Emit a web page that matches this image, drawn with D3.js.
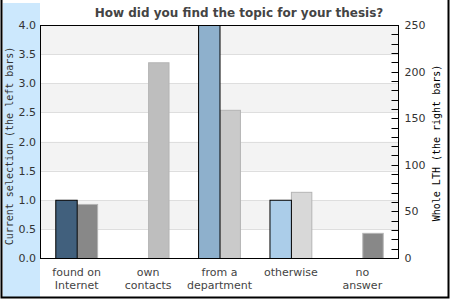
<!DOCTYPE html>
<html>
<head>
<meta charset="utf-8">
<script src="https://cdn.jsdelivr.net/npm/d3@7"></script>
<style>
  body { margin: 0; background: #fff; }
  text { font-family: "DejaVu Sans", Verdana, sans-serif; }
</style>
</head>
<body>
<div id="chart"></div>
<script>
const width = 450;
const height = 300;

// data
const categories = ["found on|Internet", "own|contacts", "from a|department", "otherwise", "no|answer"];
const selection = [1, 0, 4, 1, 0];          // left bars, left axis
const wholeLTH = [58, 210, 159, 71, 27];    // right bars, right axis
const leftTicks = [0, 0.5, 1, 1.5, 2, 2.5, 3, 3.5, 4];
const rightTicks = [0, 50, 100, 150, 200, 250];

const leftColors = ["#41607d", "#5a7fa0", "#8eb0cc", "#abcde9", "#c0dcf0"];
const rightColors = ["#888888", "#bebebe", "#cacaca", "#d8d8d8", "#888888"];

const margin = {top: 25, right: 52, bottom: 42, left: 40};
const x0 = margin.left, x1 = width - margin.right;
const y0 = height - margin.bottom, y1 = margin.top;

const svg = d3.select("#chart")
  .append("svg")
  .attr("width", width)
  .attr("height", height);

// blue strip on the left
svg.append("rect")
  .attr("x", 3).attr("y", 3)
  .attr("width", 37).attr("height", 294)
  .attr("fill", "#cce8fd");

const x = d3.scaleBand()
  .domain(d3.range(categories.length))
  .range([x0 + 1, x1])
  .paddingInner(0.4)
  .paddingOuter(0.2);

const yL = d3.scaleLinear().domain([0, 4]).range([y0, y1]);
const yR = d3.scaleLinear().domain([0, 250]).range([y0, y1]);

// alternating background bands
svg.selectAll(".band")
  .data(d3.range(0, 4, 0.5))
  .enter().append("rect")
  .attr("class", "band")
  .attr("x", x0)
  .attr("width", x1 - x0)
  .attr("y", d => yL(d + 0.5))
  .attr("height", d => yL(d) - yL(d + 0.5))
  .attr("fill", (d, i) => i % 2 ? "#f3f3f3" : "#fff");

svg.selectAll(".grid")
  .data(leftTicks.slice(1, -1))
  .enter().append("line")
  .attr("class", "grid")
  .attr("x1", x0).attr("x2", x1)
  .attr("y1", d => Math.round(yL(d)) + 0.5)
  .attr("y2", d => Math.round(yL(d)) + 0.5)
  .attr("stroke", "#dedede");

const bw = x.bandwidth() / 2;

// right bars (whole LTH)
svg.selectAll(".rbar")
  .data(wholeLTH)
  .enter().append("rect")
  .attr("class", "rbar")
  .attr("x", (d, i) => x(i) + bw + 0.5)
  .attr("y", d => yR(d) + 0.5)
  .attr("width", bw - 1)
  .attr("height", d => y0 - yR(d))
  .attr("fill", (d, i) => rightColors[i])
  .attr("stroke", "#b4b4b4");

// left bars (current selection), zero values not drawn
svg.selectAll(".lbar")
  .data(selection.map((v, i) => ({v, i})).filter(d => d.v > 0))
  .enter().append("rect")
  .attr("class", "lbar")
  .attr("x", d => x(d.i) + 0.5)
  .attr("y", d => yL(d.v) + 0.5)
  .attr("width", bw)
  .attr("height", d => y0 - yL(d.v))
  .attr("fill", d => leftColors[d.i])
  .attr("stroke", "#000");

// plot frame
svg.append("rect")
  .attr("x", x0 + 0.5).attr("y", y1 + 0.5)
  .attr("width", x1 - x0).attr("height", y0 - y1)
  .attr("fill", "none")
  .attr("stroke", "#000");

// left axis labels
svg.selectAll(".ltick")
  .data(leftTicks)
  .enter().append("text")
  .attr("class", "ltick")
  .attr("x", 36)
  .attr("y", d => yL(d) + 4)
  .attr("text-anchor", "end")
  .attr("font-size", 11)
  .attr("fill", "#333")
  .text(d3.format(".1f"));

// right axis with minor ticks
const rAxis = svg.append("g")
  .attr("transform", `translate(${x1 + 0.5},0)`);
rAxis.selectAll("line")
  .data(d3.range(10, 250, 10))
  .enter().append("line")
  .attr("x1", -7).attr("x2", 0)
  .attr("y1", d => Math.round(yR(d)) + 0.5)
  .attr("y2", d => Math.round(yR(d)) + 0.5)
  .attr("stroke", "#000");
rAxis.selectAll("text")
  .data(rightTicks)
  .enter().append("text")
  .attr("x", 6)
  .attr("y", d => yR(d) + 4)
  .attr("font-size", 11)
  .attr("fill", "#333")
  .text(d => d);

// category labels
categories.forEach((c, i) => {
  const t = svg.append("text")
    .attr("x", x(i) + x.bandwidth() / 2)
    .attr("y", 276)
    .attr("text-anchor", "middle")
    .attr("font-size", 11)
    .attr("fill", "#444");
  c.split("|").forEach((line, j) => {
    t.append("tspan")
      .attr("x", x(i) + x.bandwidth() / 2)
      .attr("dy", j ? 13 : 0)
      .text(line);
  });
});

// title
svg.append("text")
  .attr("x", 239).attr("y", 17)
  .attr("text-anchor", "middle")
  .attr("font-size", 12)
  .attr("font-weight", "bold")
  .attr("fill", "#444")
  .text("How did you find the topic for your thesis?");

// axis titles
svg.append("text")
  .attr("transform", "translate(13,146) rotate(-90)")
  .attr("text-anchor", "middle")
  .style("font-family", "'DejaVu Sans Mono', monospace")
  .attr("font-size", 10)
  .attr("fill", "#333")
  .text("Current selection (the left bars)");

svg.append("text")
  .attr("transform", "translate(440,143) rotate(-90)")
  .attr("text-anchor", "middle")
  .style("font-family", "'DejaVu Sans Mono', monospace")
  .attr("font-size", 10)
  .attr("fill", "#000")
  .text("Whole LTH (the right bars)");

// outer frame
svg.append("path")
  .attr("d", `M1.5,0V${height - 2.5}H${width - 1.5}V0`)
  .attr("fill", "none")
  .attr("stroke", "#000")
  .attr("stroke-width", 2);
</script>
</body>
</html>
